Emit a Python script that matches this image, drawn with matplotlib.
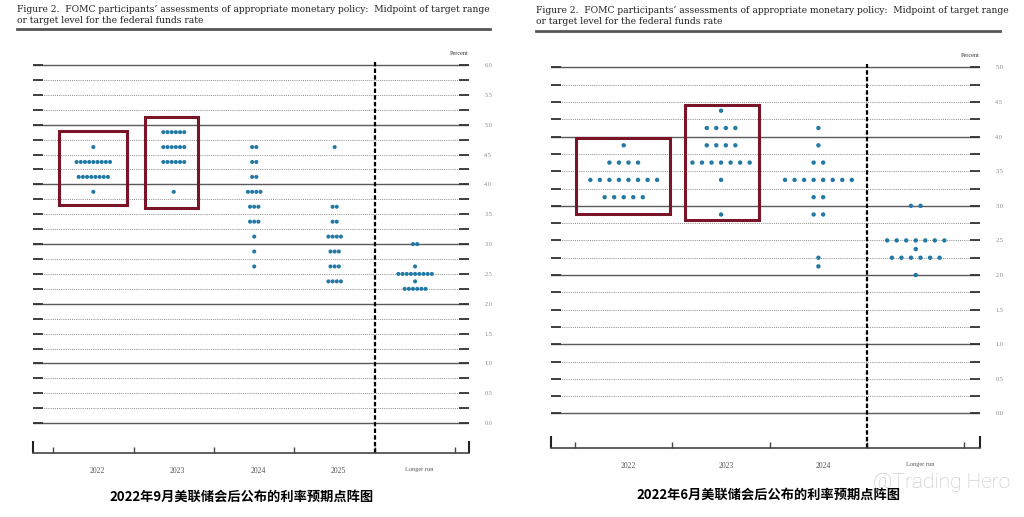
import numpy as np
import matplotlib.pyplot as plt
from matplotlib.lines import Line2D
from matplotlib.patches import Rectangle

# September 2022 dot plot
sep_columns = ['2022', '2023', '2024', '2025', 'Longer run']
sep_rates = [
    [4.625, 4.375, 4.125, 3.875],
    [4.875, 4.625, 4.375, 3.875],
    [4.625, 4.375, 4.125, 3.875, 3.625, 3.375, 3.125, 2.875, 2.625],
    [4.625, 3.625, 3.375, 3.125, 2.875, 2.625, 2.375],
    [3.0, 2.625, 2.5, 2.375, 2.25],
]
sep_counts = [
    [1, 9, 8, 1],
    [6, 6, 6, 1],
    [2, 2, 2, 4, 3, 3, 1, 1, 1],
    [1, 2, 2, 4, 3, 3, 4],
    [2, 1, 9, 1, 6],
]

# June 2022 dot plot
jun_columns = ['2022', '2023', '2024', 'Longer run']
jun_rates = [
    [3.875, 3.625, 3.375, 3.125],
    [4.375, 4.125, 3.875, 3.625, 3.375, 2.875],
    [4.125, 3.875, 3.625, 3.375, 3.125, 2.875, 2.25, 2.125],
    [3.0, 2.5, 2.375, 2.25, 2.0],
]
jun_counts = [
    [1, 4, 8, 5],
    [1, 4, 4, 7, 1, 1],
    [1, 1, 2, 8, 2, 2, 1, 1],
    [2, 7, 1, 6, 1],
]

title = ("Figure 2.  FOMC participants\u2019 assessments of appropriate monetary policy:  Midpoint of target range\n"
         "or target level for the federal funds rate")
sep_caption = '2022年9月美联储会后公布的利率预期点阵图'
jun_caption = '2022年6月美联储会后公布的利率预期点阵图'

DOT = '#2279a6'
BOX = '#7a1428'
W, H = 1024, 517

fig = plt.figure(figsize=(W / 100, H / 100), dpi=100)
fig.patch.set_facecolor('white')


def px_axes(x0, x1, y0, y1):
    return fig.add_axes([x0 / W, 1 - y1 / H, (x1 - x0) / W, (y1 - y0) / H])


def draw_panel(ax, columns, rates, counts, ymax, xlim, spacing, size, boxes):
    ax.set_xlim(*xlim)
    ax.set_ylim(-0.5, ymax + 0.05)
    for v in np.arange(0, ymax + 0.01, 0.25):
        if abs(v - round(v)) < 1e-6:
            ax.axhline(v, color='#5a5a5a', lw=1.0, zorder=1)
        else:
            ax.axhline(v, color='#8a8a8a', lw=0.7, ls=(0, (1, 1.2)), zorder=1)
    n = len(columns)
    ax.axvline(n - 0.5, color='black', lw=1.6, ls=(0, (2, 1)), zorder=2)
    for i in range(n):
        for r, c in zip(rates[i], counts[i]):
            xs = (i + 1) + (np.arange(c) - (c - 1) / 2) * spacing
            ax.scatter(xs, [r] * c, s=size, color=DOT, edgecolors='none', zorder=3)
        fs = 4.5 if columns[i] == 'Longer run' else 5.5
        ax.annotate(columns[i], xy=(i + 1.05, 0), xycoords=('data', 'axes fraction'),
                    xytext=(0, -10), textcoords='offset points', ha='center', va='top',
                    fontsize=fs, family='Liberation Serif', color='#555')
    for (bx0, bx1, by0, by1) in boxes:
        ax.add_patch(Rectangle((bx0, by0), bx1 - bx0, by1 - by0, fill=False,
                               edgecolor=BOX, lw=2.2, zorder=4))
    for s in ['left', 'right', 'top']:
        ax.spines[s].set_visible(False)
    ax.spines['bottom'].set_color('#444')
    ax.spines['bottom'].set_linewidth(1.2)
    ax.set_yticks(np.arange(0, ymax + 0.01, 0.5))
    ax.set_yticks(np.arange(0.25, ymax, 0.5), minor=True)
    ax.set_yticklabels(['%.1f' % v for v in np.arange(0, ymax + 0.01, 0.5)])
    ax.tick_params(axis='y', which='both', direction='in', length=7, width=1.3,
                   color='#333', left=True, right=True, labelleft=False,
                   labelright=True, pad=11, labelsize=4.5, labelcolor='#888')
    ax.set_xticks(np.arange(0.5, n + 0.6, 1.0))
    ax.set_xticks(list(xlim), minor=True)
    ax.tick_params(axis='x', which='major', direction='in', length=4, width=1,
                   color='#444', labelbottom=False)
    ax.tick_params(axis='x', which='minor', direction='in', length=9, width=1.5,
                   color='#222', labelbottom=False)
    for lab in ax.get_yticklabels():
        lab.set_family('Liberation Serif')
    ax.annotate('Percent', xy=(1, 1), xycoords='axes fraction', xytext=(0, 4),
                textcoords='offset points', ha='right', va='bottom',
                fontsize=4.5, family='Liberation Serif', color='#333')


ax1 = px_axes(33, 469, 62, 453)
draw_panel(ax1, sep_columns, sep_rates, sep_counts, 6.0, (0.25, 5.67), 0.052, 8.5,
           [(0.575, 1.42, 3.65, 4.89), (1.64, 2.30, 3.61, 5.13)])

ax2 = px_axes(551, 980, 64, 448)
draw_panel(ax2, jun_columns, jun_rates, jun_counts, 5.0, (0.253, 4.66), 0.098, 10,
           [(0.51, 1.476, 2.88, 3.976), (1.63, 2.39, 2.80, 4.456)])

# titles and rules
for x0, x1, yt, yl in [(17, 490, 5, 29), (536, 1000, 6, 31)]:
    fig.text(x0 / W, 1 - yt / H, title, ha='left', va='top', fontsize=6.55,
             family='DejaVu Serif', color='#222', linespacing=1.35)
    fig.add_artist(Line2D([x0 / W, x1 / W], [1 - yl / H, 1 - yl / H],
                          color='#555', lw=2.0))

fig.text(242 / W, 1 - 497 / H, sep_caption, ha='center', va='center', fontsize=9.5,
         family=['Noto Sans CJK SC', 'DejaVu Sans'], weight='bold', color='black')
fig.text(768 / W, 1 - 495 / H, jun_caption, ha='center', va='center', fontsize=9.5,
         family=['Noto Sans CJK SC', 'DejaVu Sans'], weight='bold', color='black')

fig.text(1010 / W, 1 - 483 / H, '@Trading Hero', ha='right', va='center', fontsize=15,
         family='Roboto', weight='light', color='#c4c4c4')

fig.savefig('out.png', dpi=100, facecolor='white')
